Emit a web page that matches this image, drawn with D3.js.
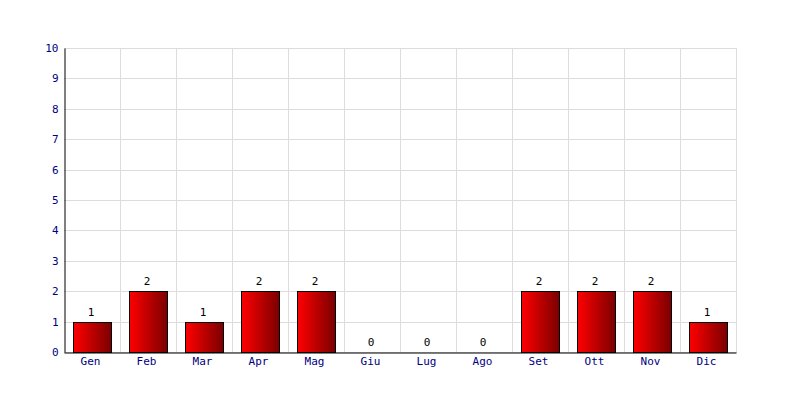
<!DOCTYPE html>
<html><head><meta charset="utf-8">
<script src="https://cdn.jsdelivr.net/npm/d3@7"></script>
<style>body{margin:0;background:#fff}</style>
</head><body>
<svg id="c" width="800" height="400"></svg>
<script>
const categories = ["Gen","Feb","Mar","Apr","Mag","Giu","Lug","Ago","Set","Ott","Nov","Dic"];
const values = [1,2,1,2,2,0,0,0,2,2,2,1];
const yTicks = [0,1,2,3,4,5,6,7,8,9,10];

const svg = d3.select("#c");
const L = 64, R = 736, T = 48, B = 352;
const x = d3.scaleBand().domain(categories).range([L, R]).paddingInner(0.32).paddingOuter(0.16);
const xg = d3.scaleBand().domain(categories).range([L, R]);
const y = d3.scaleLinear().domain([0, 10]).range([B, T]);

const defs = svg.append("defs");
const g = defs.append("linearGradient").attr("id","grad").attr("x1","0").attr("x2","1").attr("y1","0").attr("y2","0");
g.append("stop").attr("offset","0").attr("stop-color","#ff0000");
g.append("stop").attr("offset","1").attr("stop-color","#7a0000");

const font = "'DejaVu Sans Mono', monospace";

// grid
svg.append("g").selectAll("line.h").data(yTicks).join("line")
  .attr("x1", L).attr("x2", R + 1)
  .attr("y1", d => Math.round(y(d)) + 0.5).attr("y2", d => Math.round(y(d)) + 0.5)
  .attr("stroke", "#dcdcdc");
svg.append("g").selectAll("line.v").data(categories).join("line")
  .attr("x1", (d,i) => L + (i+1)*xg.bandwidth() + 0.5).attr("x2", (d,i) => L + (i+1)*xg.bandwidth() + 0.5)
  .attr("y1", T).attr("y2", B)
  .attr("stroke", "#dcdcdc");

// bars
svg.append("g").selectAll("rect").data(values).join("rect")
  .attr("x", (d,i) => Math.round(x(categories[i])) + 0.5)
  .attr("y", d => Math.round(y(d)) + 0.5)
  .attr("width", Math.round(x.bandwidth()))
  .attr("height", d => Math.max(0, B - Math.round(y(d))))
  .attr("fill", "url(#grad)")
  .attr("stroke", d => d > 0 ? "#000" : "none");

// value labels
svg.append("g").selectAll("text").data(values).join("text")
  .attr("x", (d,i) => x(categories[i]) + x.bandwidth()/2 - 1)
  .attr("y", d => y(d) - 6)
  .attr("text-anchor", "middle")
  .attr("font-family", font).attr("font-size", 11).attr("fill", "#000")
  .text(d => d);

// axes
const yAxis = d3.axisLeft(y).tickValues(yTicks).tickSize(0).tickPadding(6).tickFormat(d3.format("d"));
const ya = svg.append("g").attr("transform", `translate(${L + 0.5},0)`).call(yAxis);
ya.select(".domain").attr("stroke", "#000");
ya.selectAll("text").attr("font-family", font).attr("font-size", 11).attr("fill", "#000080");

const xAxis = d3.axisBottom(xg).tickSize(0).tickPadding(5);
const xa = svg.append("g").attr("transform", `translate(-1.5,${B + 0.5})`).call(xAxis);
xa.select(".domain").attr("transform", "translate(1.5,0)").attr("stroke", "#000");
xa.selectAll("text").attr("font-family", font).attr("font-size", 11).attr("fill", "#000080");
</script>
</body></html>
